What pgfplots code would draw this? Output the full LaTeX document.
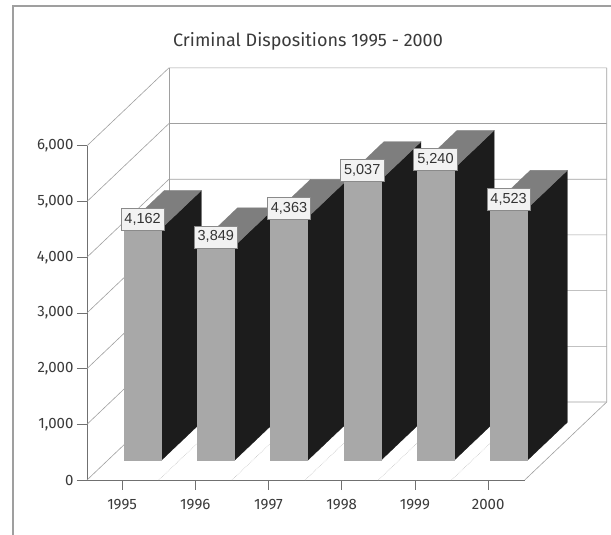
\documentclass[border=0pt]{standalone}
\usepackage{pgfplots}
\pgfplotsset{compat=1.18}
\usepackage{pgfplotstable}
\usepackage{fontspec}
\setmainfont{Fira Sans}
\newfontfamily\valuefont{Liberation Sans}

\definecolor{faceFront}{HTML}{A8A8A8}
\definecolor{faceTop}{HTML}{7E7E7E}
\definecolor{faceSide}{HTML}{1C1C1C}
\definecolor{wallLine}{HTML}{A0A0A0}
\definecolor{axisLine}{HTML}{707070}
\definecolor{textGray}{HTML}{3A3A3A}
\definecolor{labelFill}{HTML}{F2F2F2}
\definecolor{labelBorder}{HTML}{8A8A8A}

\pgfplotstableread{
year value
1995 4162
1996 3849
1997 4363
1998 5037
1999 5240
2000 4523
}\dispositions

% oblique depth of the chart box (in axis units) and bar geometry
\def\dx{1.12}
\def\dy{1400}
\def\ta{0.25}   % front of the bars, as a fraction of the depth
\def\tb{0.74}   % back of the bars
\def\hw{0.253}  % half width of a bar
\def\xfront{-0.48}
\def\xend{5.5}
\pgfmathsetmacro\xbl{\xfront+\dx}
\pgfmathsetmacro\xbr{\xend+\dx}

\begin{document}
\begin{tikzpicture}
\useasboundingbox (-87pt,-55pt) rectangle (524pt,480pt);
\fill[white] (-87pt,-55pt) rectangle (524pt,480pt);
\draw[gray!75, line width=1.6pt] (-74pt,-90pt) -- (-74pt,474pt) -- (600pt,474pt);

\begin{axis}[
  at={(0pt,0pt)}, anchor=south west,
  x=73.2pt, y=0.0557pt,
  xmin=\xfront, xmax=\xend, ymin=0, ymax=6000,
  clip=false,
  axis x line*=bottom, axis y line*=left,
  axis line style={axisLine, line width=0.7pt},
  tick style={axisLine, line width=0.7pt},
  major tick length=10pt, tick align=outside,
  xtick={0,...,5},
  xticklabels from table={\dispositions}{year},
  ytick={0,1000,...,6000},
  scaled y ticks=false,
  /pgf/number format/assume math mode=true,
  /pgf/number format/1000 sep={,},
  yticklabel style={font=\fontsize{15}{18}\selectfont, text=textGray},
  xticklabel style={font=\fontsize{15}{18}\selectfont, text=textGray, yshift=-6pt},
]

% floor dotted lines
\pgfplotsinvokeforeach{0,...,4}{%
  \pgfmathsetmacro\fa{#1+0.5}%
  \pgfmathsetmacro\fb{#1+0.5+\dx}%
  \edef\floorline{\noexpand\addplot[gray!45, densely dotted, line width=0.6pt] coordinates {(\fa,0) (\fb,\dy)};}%
  \floorline
}

% side wall diagonals and back wall gridlines
\pgfplotsinvokeforeach{0,1000,...,6000}{%
  \pgfmathsetmacro\yback{#1+\dy}%
  \edef\gridline{\noexpand\addplot[wallLine, line width=0.6pt] coordinates {(\xfront,#1) (\xbl,\yback) (\xbr,\yback)};}%
  \gridline
}
\pgfmathsetmacro\ytopback{6000+\dy}
\edef\walledges{%
  \noexpand\addplot[wallLine, line width=0.6pt] coordinates {(\xbl,\dy) (\xbl,\ytopback)};
  \noexpand\addplot[wallLine, line width=0.6pt] coordinates {(\xend,0) (\xbr,\dy) (\xbr,\ytopback)};
}
\walledges

% bars: side, top and front faces
\pgfplotsinvokeforeach{0,...,5}{%
  \pgfplotstablegetelem{#1}{value}\of\dispositions
  \let\val\pgfplotsretval
  \pgfmathsetmacro\xl{#1-\hw+\ta*\dx}%
  \pgfmathsetmacro\xr{#1+\hw+\ta*\dx}%
  \pgfmathsetmacro\yb{\ta*\dy}%
  \pgfmathsetmacro\yt{\val+\ta*\dy}%
  \pgfmathsetmacro\xlb{\xl+(\tb-\ta)*\dx}%
  \pgfmathsetmacro\xrb{\xr+(\tb-\ta)*\dx}%
  \pgfmathsetmacro\ybb{\yb+(\tb-\ta)*\dy}%
  \pgfmathsetmacro\ytb{\yt+(\tb-\ta)*\dy}%
  \edef\barfaces{%
    \noexpand\addplot[fill=faceSide, draw=faceSide, line width=0.3pt] coordinates {(\xr,\yb) (\xrb,\ybb) (\xrb,\ytb) (\xr,\yt)} -- cycle;
    \noexpand\addplot[fill=faceTop, draw=faceTop, line width=0.3pt] coordinates {(\xl,\yt) (\xr,\yt) (\xrb,\ytb) (\xlb,\ytb)} -- cycle;
    \noexpand\addplot[fill=faceFront, draw=faceFront, line width=0.3pt] coordinates {(\xl,\yb) (\xr,\yb) (\xr,\yt) (\xl,\yt)} -- cycle;
  }%
  \barfaces
}

% value labels
\addplot[draw=none, point meta=explicit,
  nodes near coords={\pgfmathprintnumber[assume math mode=true,1000 sep={,},fixed,precision=0]{\pgfplotspointmeta}},
  nodes near coords style={anchor=south, fill=labelFill, draw=labelBorder, line width=0.6pt,
    inner xsep=3.5pt, inner ysep=5pt, yshift=-2pt,
    font=\valuefont\fontsize{14.5}{17}\selectfont, text=black!80}]
  table[x expr=\coordindex+0.28, y expr=\thisrow{value}+350, meta=value] {\dispositions};
\end{axis}

\node[font=\fontsize{18}{22}\selectfont, text=textGray] at (221pt,439pt) {Criminal Dispositions 1995 - 2000};
\end{tikzpicture}
\end{document}
